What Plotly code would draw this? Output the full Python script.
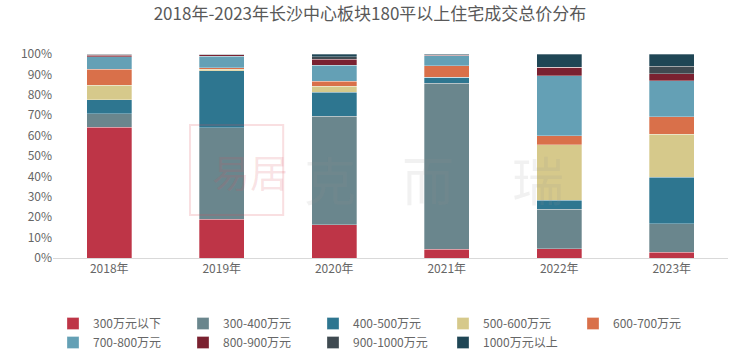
import plotly.graph_objects as go

years = ["2018年", "2019年", "2020年", "2021年", "2022年", "2023年"]
series_names = ["300万元以下", "300-400万元", "400-500万元", "500-600万元", "600-700万元",
                "700-800万元", "800-900万元", "900-1000万元", "1000万元以上"]

s_300_below = [64.1, 19.0, 16.2, 4.4, 4.6, 2.8]
s_300_400 = [6.5, 44.9, 53.4, 81.2, 19.4, 14.0]
s_400_500 = [6.9, 27.8, 11.6, 3.0, 4.3, 22.7]
s_500_600 = [7.3, 0.8, 3.1, 0.0, 27.1, 21.1]
s_600_700 = [7.7, 0.8, 2.3, 5.7, 4.6, 8.7]
s_700_800 = [6.2, 5.7, 8.0, 4.9, 29.4, 17.6]
s_800_900 = [0.8, 0.7, 2.9, 0.3, 4.1, 3.4]
s_900_1000 = [0.3, 0.2, 1.2, 0.2, 0.0, 3.7]
s_1000_above = [0.2, 0.1, 1.3, 0.3, 6.5, 6.0]

values = [s_300_below, s_300_400, s_400_500, s_500_600, s_600_700,
          s_700_800, s_800_900, s_900_1000, s_1000_above]
colors = ["#BE3547", "#6A868D", "#2E7690", "#D6C98B", "#D9704A",
          "#64A0B5", "#7A2130", "#3F4A51", "#1F4655"]

FONT = "Noto Sans CJK SC"
fig = go.Figure()
for name, vals, c in zip(series_names, values, colors):
    fig.add_trace(go.Bar(x=years, y=vals, name=name,
                         marker=dict(color=c, line=dict(width=0.6, color="rgba(255,255,255,0.5)")),
                         width=0.4))

fig.update_layout(
    barmode="stack",
    width=740, height=353,
    margin=dict(l=53, r=12, t=54, b=95, autoexpand=False),
    paper_bgcolor="white", plot_bgcolor="white",
    font=dict(family=FONT, color="#666666", size=12),
    title=dict(text="2018年-2023年长沙中心板块180平以上住宅成交总价分布", x=0.5, xanchor="center",
               y=0.96, yanchor="middle", font=dict(size=17, color="#595959", family=FONT)),
    legend=dict(orientation="h", x=0.0, xanchor="left", y=-0.25, yanchor="top",
                entrywidth=85, entrywidthmode="pixels", traceorder="normal", tracegroupgap=0,
                font=dict(size=12, color="#666666", family=FONT), itemwidth=30),
    showlegend=True,
)
fig.update_xaxes(showline=True, linecolor="#D9D9D9", linewidth=1, ticks="", showgrid=False,
                 tickfont=dict(size=12, color="#666666"))
fig.update_yaxes(range=[0, 100], dtick=10, ticksuffix="%", showgrid=False, zeroline=False,
                 showline=False, tickfont=dict(size=12, color="#666666"))

# watermark (seal box + text)
fig.add_shape(type="rect", xref="paper", yref="paper", x0=0.203, x1=0.341, y0=0.211, y1=0.652,
              line=dict(color="rgba(220,80,90,0.18)", width=2), fillcolor="rgba(0,0,0,0)", layer="above")
fig.add_annotation(text="易居", xref="paper", yref="paper", x=0.232, y=0.43, showarrow=False,
                   font=dict(size=38, color="rgba(220,80,90,0.16)", family=FONT))
for t, xx in zip(["克", "而", "瑞"], [0.41, 0.555, 0.76]):
    fig.add_annotation(text=t, xref="paper", yref="paper", x=xx, y=0.39, showarrow=False,
                       font=dict(size=52, color="rgba(150,150,150,0.13)", family=FONT))

fig.write_html("out.html")
